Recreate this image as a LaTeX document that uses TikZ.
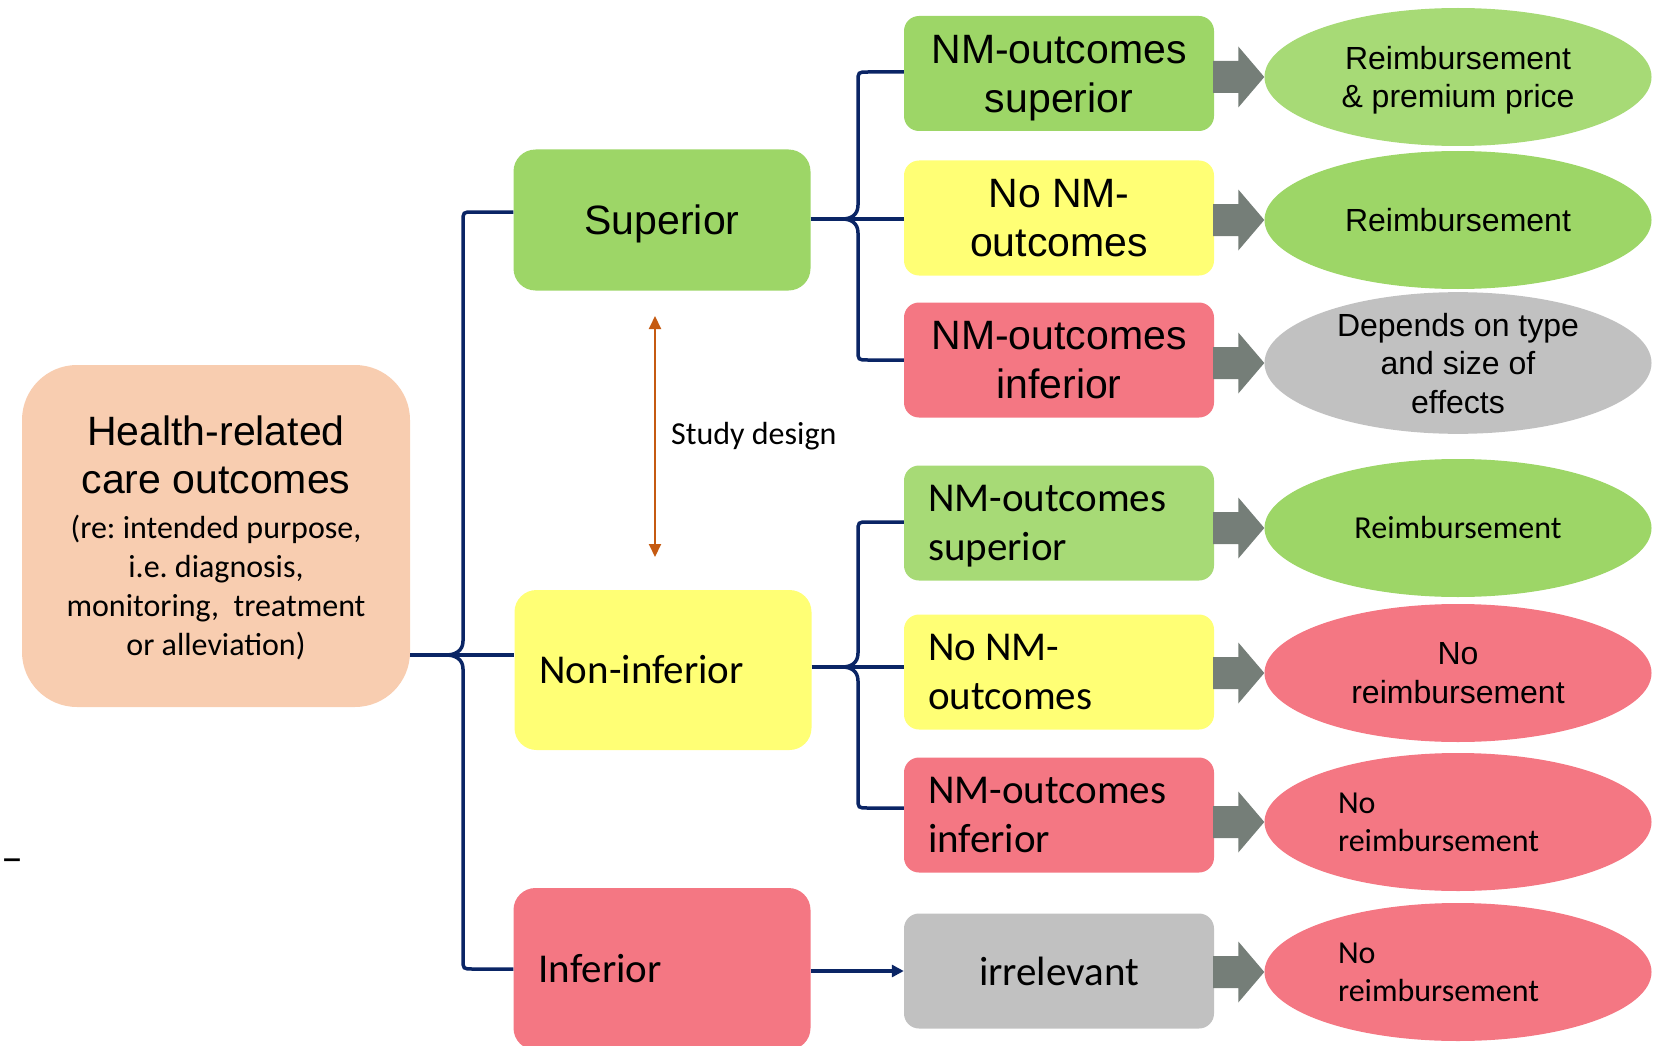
\documentclass[tikz,border=0pt]{standalone}
\usepackage{fontspec}
\setmainfont{Carlito}
\newfontfamily\arialfont{Liberation Sans}
\usetikzlibrary{shapes.geometric,arrows.meta,calc}
\frenchspacing

\definecolor{peach}{HTML}{F8CDB0}
\definecolor{greena}{HTML}{9DD667}
\definecolor{greenb}{HTML}{A7DA76}
\definecolor{yellowbox}{HTML}{FFFF75}
\definecolor{redbox}{HTML}{F47783}
\definecolor{greybox}{HTML}{C1C1C1}
\definecolor{arrowgrey}{HTML}{757E78}
\definecolor{navy}{HTML}{0A2565}
\definecolor{orangearr}{HTML}{C55A11}

\tikzset{
  lvlone/.style={rounded corners=22pt, minimum width=297pt, inner sep=0pt},
  lvltwo/.style={rounded corners=15pt, minimum width=310pt, minimum height=115pt, inner sep=0pt},
  arialbig/.style={font=\arialfont\fontsize{41}{49}\selectfont, align=flush center},
  calbig/.style={font=\fontsize{41}{49}\selectfont, align=flush left},
  outcome/.style={ellipse, minimum width=387pt, minimum height=138pt, inner sep=0pt},
  arialsmall/.style={font=\arialfont\fontsize{32}{38.5}\selectfont, align=flush center},
  calsmall/.style={font=\fontsize{32}{38}\selectfont},
  brace/.style={draw=navy, line width=3.5pt},
  studyarrow/.style={draw=orangearr, line width=2pt, {Triangle[length=13pt,width=12pt]}-{Triangle[length=13pt,width=12pt]}}
}

% fat grey arrow from a box to its outcome
\newcommand{\fatarrow}[2]{%
  \fill[arrowgrey] ($(#1.east |- #2.west)+(-1,-16)$) -- ($(#2.west)+(-26,-16)$) -- ($(#2.west)+(-26,-30.5)$) -- (#2.west)
    -- ($(#2.west)+(-26,30.5)$) -- ($(#2.west)+(-26,16)$) -- ($(#1.east |- #2.west)+(-1,16)$) -- cycle;}

\begin{document}
\begin{tikzpicture}[x=1pt,y=1pt,yscale=-1,xscale=1]
		\useasboundingbox (0,0) rectangle (1663,1046);

		% Tips of the braces
		\coordinate (maintip) at (446,655);
		\coordinate (uptip) at (842,219);
		\coordinate (lowtip) at (842,667);

		% Start box
		\node[fill=peach, rounded corners=55pt, minimum width=388pt, minimum height=342pt, inner sep=0pt, text width=370pt, align=flush center,
		      font=\fontsize{32}{39}\selectfont] (health) at (216,536)
		      {\arialfont\fontsize{41}{39}\selectfont Health-related\\[9pt] care outcomes\\[6pt] \rmfamily\fontsize{32}{39}\selectfont (re: intended purpose,\\ i.e. diagnosis,\\ monitoring,\ \ treatment\\ or alleviation\smash{)}};

		% Level one: study result on health outcomes
		\node[lvlone, fill=greena, minimum height=141pt, arialbig, text depth=0pt] (sup) at (662,220) {Superior};
		\node[lvlone, fill=yellowbox, minimum height=160pt, calbig, text width=247pt] (noninf) at (663,670) {Non-inferior};
		\node[lvlone, fill=redbox, minimum height=162pt, calbig, text width=247pt] (inf) at (662,969) {Inferior};

		% Level two: non-medical outcomes
		\node[lvltwo, fill=greena, arialbig, text depth=0pt] (b1) at (1059,73.5) {NM-outcomes\\superior};
		\node[lvltwo, fill=yellowbox, arialbig] (b2) at (1059,218) {No NM-\\outcomes};
		\node[lvltwo, fill=redbox, arialbig] (b3) at (1059,360) {NM-outcomes\\inferior};
		\node[lvltwo, fill=greenb, calbig, text width=262pt] (b4) at (1059,523) {NM-outcomes\\su\smash{p}erior};
		\node[lvltwo, fill=yellowbox, calbig, text width=262pt] (b5) at (1059,672) {No NM-\\outcomes};
		\node[lvltwo, fill=redbox, calbig, text width=262pt] (b6) at (1059,815) {NM-outcomes\\inferior};
		\node[lvltwo, fill=greybox, font=\fontsize{41}{49}\selectfont] (b7) at (1059,971) {irrelevant};

		% Outcomes
		\node[outcome, fill=greenb, arialsmall, text depth=0pt] (e1) at (1458,77) {Reimbursement\\\& premium price};
		\node[outcome, fill=greena, arialsmall] (e2) at (1458,220) {Reimbursement};
		\node[outcome, fill=greybox, arialsmall, text depth=0pt] (e3) at (1458,363) {Depends on type\\and size of\\effects};
		\node[outcome, fill=greena, calsmall] (e4) at (1458,528) {Reimbursement};
		\node[outcome, fill=redbox, arialsmall] (e5) at (1458,673) {No\\reimbursement};
		\node[outcome, fill=redbox, calsmall, text width=240pt, align=flush left] (e6) at (1458,822) {No\\reimbursement};
		\node[outcome, fill=redbox, calsmall, text width=240pt, align=flush left] (e7) at (1458,972) {No\\reimbursement};

		% Main brace
		\draw[brace] ($(sup.west)+(0,-8)$) -- (473,212) .. controls (463,212) .. (463,222) -- (463,641) .. controls (463,651) and (455,655) .. (maintip)
		      .. controls (455,655) and (463,659) .. (463,669) -- (463,959) .. controls (463,969) .. (473,969) -- (inf.west);
		\draw[brace] (health.east |- maintip) -- (noninf.west |- maintip);

		% Upper brace
		\draw[brace] ($(b1.west)+(0,-1.5)$) -- (868,72) .. controls (858,72) .. (858,82) -- (858,205) .. controls (858,215) and (851,219) .. (uptip)
		      .. controls (851,219) and (858,223) .. (858,233) -- (858,350) .. controls (858,360) .. (868,360) -- (b3.west);
		\draw[brace] (sup.east |- uptip) -- (b2.west |- uptip);

		% Lower brace
		\draw[brace] ($(b4.west)+(0,-1)$) -- (868,522) .. controls (858,522) .. (858,532) -- (858,653) .. controls (858,663) and (851,667) .. (lowtip)
		      .. controls (851,667) and (858,671) .. (858,681) -- (858,798) .. controls (858,808) .. (868,808) -- ($(b6.west)+(0,-7)$);
		\draw[brace] (noninf.east |- lowtip) -- (b5.west |- lowtip);

		% Inferior goes straight on
		\draw[brace, -{Triangle[length=12pt,width=12pt]}] (inf.east |- b7.west) -- (b7.west);

		% Fat arrows to the outcomes
		\fatarrow{b1}{e1}
		\fatarrow{b2}{e2}
		\fatarrow{b3}{e3}
		\fatarrow{b4}{e4}
		\fatarrow{b5}{e5}
		\fatarrow{b6}{e6}
		\fatarrow{b7}{e7}

		% Study design arrow
		\coordinate (sdtop) at (655,316);
		\coordinate (sdbot) at (655,557);
		\draw[studyarrow] (sdtop) -- (sdbot);
		\node[anchor=west, inner sep=0pt, font=\fontsize{32}{38}\selectfont] (sdlabel) at (671,436) {Study design};

		% Stray dash at the left
		\node[inner sep=0pt, font=\fontsize{44}{50}\selectfont] (dash) at (12,866) {–};
	\end{tikzpicture}
\end{document}
